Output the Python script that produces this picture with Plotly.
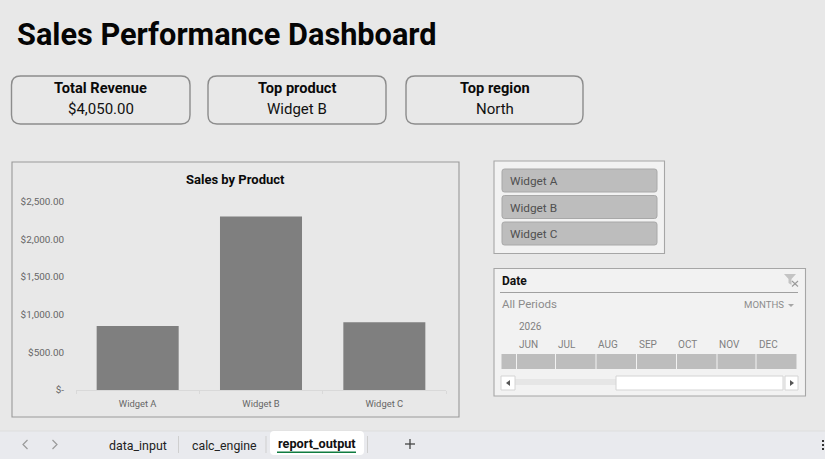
import plotly.graph_objects as go

W, H = 825, 459

products = ["Widget A", "Widget B", "Widget C"]
sales = [850, 2300, 900]
y_ticks = [0, 500, 1000, 1500, 2000, 2500]
y_labels = ["$-", "$500.00", "$1,000.00", "$1,500.00", "$2,000.00", "$2,500.00"]
kpi_titles = ["Total Revenue", "Top product", "Top region"]
kpi_values = ["$4,050.00", "Widget B", "North"]
months = ["JUN", "JUL", "AUG", "SEP", "OCT", "NOV", "DEC"]
sheets = ["data_input", "calc_engine", "report_output"]

BG = "#E8E8E8"
BORDER = "#A6A6A6"
FONT = "Roboto"

shapes = []
notes = []


def px(x):
    return x / W


def py(y):
    return 1 - y / H


def rect(x0, y0, x1, y1, fill="rgba(0,0,0,0)", line=BORDER, lw=1.0):
    shapes.append(dict(type="rect", xref="paper", yref="paper", x0=px(x0), x1=px(x1),
                       y0=py(y0), y1=py(y1), fillcolor=fill,
                       line=dict(color=line, width=lw)))


def round_rect(x0, y0, x1, y1, r, fill="rgba(0,0,0,0)", line=BORDER, lw=1.0):
    d = (f"M {px(x0 + r)} {py(y0)} L {px(x1 - r)} {py(y0)} "
         f"Q {px(x1)} {py(y0)} {px(x1)} {py(y0 + r)} L {px(x1)} {py(y1 - r)} "
         f"Q {px(x1)} {py(y1)} {px(x1 - r)} {py(y1)} L {px(x0 + r)} {py(y1)} "
         f"Q {px(x0)} {py(y1)} {px(x0)} {py(y1 - r)} L {px(x0)} {py(y0 + r)} "
         f"Q {px(x0)} {py(y0)} {px(x0 + r)} {py(y0)} Z")
    shapes.append(dict(type="path", xref="paper", yref="paper", path=d, fillcolor=fill,
                       line=dict(color=line, width=lw)))


def poly(points, fill="rgba(0,0,0,0)", line="rgba(0,0,0,0)", lw=1.0, close=True):
    d = "M " + " L ".join(f"{px(x)} {py(y)}" for x, y in points)
    if close:
        d += " Z"
    shapes.append(dict(type="path", xref="paper", yref="paper", path=d, fillcolor=fill,
                       line=dict(color=line, width=lw)))


def text(x, y, s, size, color="#000000", bold=False, anchor="left", font=FONT):
    label = f"<b>{s}</b>" if bold else s
    notes.append(dict(x=px(x), y=py(y), xref="paper", yref="paper", text=label, showarrow=False,
                      xanchor=anchor, yanchor="middle", borderpad=0,
                      font=dict(family=font, size=size, color=color)))


# page title and kpi cards
text(16, 34, "Sales Performance Dashboard", 30.7, "#050505", bold=True)
card_x = [(11.5, 190), (208, 386), (406, 583)]
for (x0, x1), title, value in zip(card_x, kpi_titles, kpi_values):
    round_rect(x0, 76, x1, 124, 9, line="#8C8C8C", lw=1.4)
    text((x0 + x1) / 2, 88, title, 14.6, "#0A0A0A", bold=True, anchor="center")
    text((x0 + x1) / 2, 109, value, 15, "#111111", anchor="center")

# chart frame
rect(12, 162, 459, 417, line="#999999", lw=1.1)
text(235, 180, "Sales by Product", 13, "#0A0A0A", bold=True, anchor="center")

# product slicer
rect(494, 161, 664.5, 253.5, fill="#F2F2F2", line=BORDER, lw=1.1)
for (y0, y1), name in zip([(169, 192), (195.5, 218.5), (222, 245)], products):
    round_rect(502, y0, 657, y1, 2.5, fill="#BDBDBD", line="#A8A8A8", lw=1)
    text(508.5, (y0 + y1) / 2 + 0.5, name, 11.8, "#505050")

# date slicer
rect(494, 268.5, 805.5, 396, fill="#F2F2F2", line=BORDER, lw=1.1)
text(500.5, 281, "Date", 12, "#111111", bold=True)
shapes.append(dict(type="line", xref="paper", yref="paper", x0=px(500), x1=px(798),
                   y0=py(292.5), y1=py(292.5), line=dict(color="#A0A0A0", width=1)))
poly([(784, 274), (796, 274), (791.5, 279), (791.5, 285), (788.5, 283), (788.5, 279)], fill="#C4C4C4")
poly([(792, 281), (798, 286.5)], line="#9A9A9A", lw=1.1, close=False)
poly([(798, 281), (792, 286.5)], line="#9A9A9A", lw=1.1, close=False)
text(500.5, 304, "All Periods", 11.5, "#8C8C8C")
text(742.5, 304, "MONTHS", 9.6, "#8C8C8C")
poly([(788, 304), (794, 304), (791, 307)], fill="#A6A6A6")
text(517.5, 326, "2026", 10, "#808080")
month_x = [518, 557, 597.5, 638, 677.5, 718, 758]
for x, m in zip(month_x, months):
    text(x - 0.5, 344.5, m, 10, "#808080")
cell_edges = [501, 516.5, 555.5, 596, 636.5, 676.5, 717, 756, 797]
for x0, x1 in zip(cell_edges[:-1], cell_edges[1:]):
    rect(x0 + 0.5, 354, x1 - 0.5, 369, fill="#BDBDBD", line="#BDBDBD", lw=0)

# scroll bar
rect(515, 379, 616, 385, fill="#E6E6E6", line="#E6E6E6", lw=0)
rect(501, 376, 515, 390, fill="#FFFFFF", line="#D4D4D4", lw=1)
rect(616, 376, 783, 390, fill="#FFFFFF", line="#D4D4D4", lw=1)
rect(785, 376, 798, 390, fill="#FFFFFF", line="#D4D4D4", lw=1)
poly([(510, 380), (510, 386), (506, 383)], fill="#555555")
poly([(790, 380), (790, 386), (794, 383)], fill="#555555")

# sheet tab bar
rect(0, 431, W, H, fill="#E9EAEE", line="#E9EAEE", lw=0)
shapes.append(dict(type="line", xref="paper", yref="paper", x0=0, x1=1,
                   y0=py(431), y1=py(431), line=dict(color="#DEDEDE", width=1)))
round_rect(270, 431, 364, 455, 4, fill="#FFFFFF", line="#FFFFFF", lw=0)
for x in [178.5, 266, 367.5]:
    shapes.append(dict(type="line", xref="paper", yref="paper", x0=px(x), x1=px(x),
                       y0=py(436), y1=py(453), line=dict(color="#CFCFCF", width=1)))
text(107.5, 445.5, sheets[0], 12.4, "#222222")
text(190.5, 445.5, sheets[1], 12.3, "#222222")
text(276.5, 443, sheets[2], 12.7, "#111111", bold=True)
rect(277, 451.5, 356, 453, fill="#107C41", line="#107C41", lw=0)
poly([(27.5, 440), (23, 444.5), (27.5, 449)], line="#9A9A9A", lw=1.2, close=False)
poly([(52.5, 440), (57, 444.5), (52.5, 449)], line="#9A9A9A", lw=1.2, close=False)
poly([(405, 444), (415, 444)], line="#444444", lw=1.3, close=False)
poly([(410, 439), (410, 449)], line="#444444", lw=1.3, close=False)
for y in [441, 445, 449]:
    rect(822, y - 1, 824, y + 1, fill="#333333", line="#333333", lw=0)

fig = go.Figure(go.Bar(x=products, y=sales, marker=dict(color="#7F7F7F", line=dict(width=0))))

fig.update_layout(
    width=W, height=H, margin=dict(l=0, r=0, t=0, b=0, pad=0),
    paper_bgcolor=BG, plot_bgcolor="rgba(0,0,0,0)",
    bargap=0.335, showlegend=False,
    shapes=shapes, annotations=notes,
    font=dict(family=FONT),
)
fig.update_xaxes(
    domain=[px(76), px(446)], showgrid=False, zeroline=False, automargin=False,
    showline=True, linecolor="#D9D9D9", linewidth=1,
    ticks="outside", tickson="boundaries", ticklen=3, tickcolor="#D9D9D9",
    tickfont=dict(family=FONT, size=9.4, color="#666666"), ticklabelstandoff=5,
)
fig.update_yaxes(
    domain=[py(390), py(201.5)], range=[0, 2500], showgrid=False, zeroline=False, automargin=False,
    showline=False, tickvals=y_ticks, ticktext=y_labels, ticks="",
    tickfont=dict(family=FONT, size=9.9, color="#666666"), ticklabelstandoff=11,
)

fig.write_html("out.html", config=dict(displayModeBar=False),
               post_script="document.body.style.margin='0';document.body.style.overflow='hidden';")
